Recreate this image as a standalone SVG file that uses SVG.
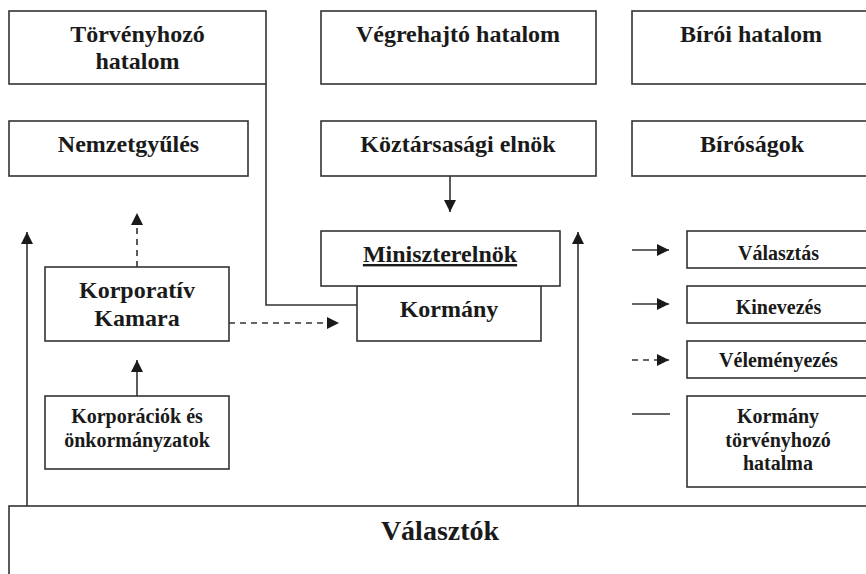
<svg xmlns="http://www.w3.org/2000/svg" width="866" height="574" viewBox="0 0 866 574">
<style>
.box{fill:#fff;stroke:#333;stroke-width:1.6}
.t{font-family:"Liberation Serif","Times New Roman",serif;font-weight:bold;fill:#1a1a1a;text-anchor:middle}
.t24{font-size:24px}
.t20{font-size:20px}
.t28{font-size:28px}
.ln{fill:none;stroke:#333;stroke-width:1.6}
.dash{stroke-dasharray:6,5}
</style>
<defs>
<marker id="ah" markerUnits="userSpaceOnUse" markerWidth="12" markerHeight="12" refX="12" refY="6" orient="auto">
<path d="M0,0 L12,6 L0,12 z" fill="#1a1a1a"/>
</marker>
</defs>
<rect width="866" height="574" fill="#fff"/>

<g id="connectors">
<path class="ln" d="M266,84 V305 H357"/>
<path class="ln" d="M450,176 V212" marker-end="url(#ah)"/>
<path class="ln dash" d="M137,267 V213" marker-end="url(#ah)"/>
<path class="ln dash" d="M229,323 H339" marker-end="url(#ah)"/>
<path class="ln" d="M137,396 V360" marker-end="url(#ah)"/>
<path class="ln" d="M27,506 V232" marker-end="url(#ah)"/>
<path class="ln" d="M578,506 V232" marker-end="url(#ah)"/>
<path class="ln" d="M632,250 H669" marker-end="url(#ah)"/>
<path class="ln" d="M632,304 H669" marker-end="url(#ah)"/>
<path class="ln dash" d="M632,360 H669" marker-end="url(#ah)"/>
<path class="ln" d="M632,414 H670"/>
</g>

<g id="torvenyhozo">
<rect class="box" x="9" y="11" width="257" height="73"/>
<text class="t t24" x="137.5" y="42">Törvényhozó</text>
<text class="t t24" x="137.5" y="69">hatalom</text>
</g>
<g id="vegrehajto">
<rect class="box" x="321" y="11" width="275" height="73"/>
<text class="t t24" x="458" y="42">Végrehajtó hatalom</text>
</g>
<g id="biroi">
<rect class="box" x="632" y="11" width="240" height="73"/>
<text class="t t24" x="751" y="42">Bírói hatalom</text>
</g>
<g id="nemzetgyules">
<rect class="box" x="9" y="121" width="239" height="55"/>
<text class="t t24" x="128.5" y="152">Nemzetgyűlés</text>
</g>
<g id="koztarsasagi">
<rect class="box" x="321" y="121" width="275" height="55"/>
<text class="t t24" x="458" y="152">Köztársasági elnök</text>
</g>
<g id="birosagok">
<rect class="box" x="632" y="121" width="240" height="55"/>
<text class="t t24" x="752" y="152">Bíróságok</text>
</g>
<g id="kormany">
<rect class="box" x="357" y="286" width="184" height="55"/>
<text class="t t24" x="449" y="317">Kormány</text>
</g>
<g id="miniszterelnok">
<rect class="box" x="321" y="231" width="239" height="55"/>
<text class="t t24" x="440" y="262" text-decoration="underline">Miniszterelnök</text>
</g>
<g id="kamara">
<rect class="box" x="45" y="267" width="184" height="74"/>
<text class="t t24" x="137" y="298">Korporatív</text>
<text class="t t24" x="137" y="326">Kamara</text>
</g>
<g id="korporaciok">
<rect class="box" x="45" y="396" width="184" height="73"/>
<text class="t t20" x="137" y="423">Korporációk és</text>
<text class="t t20" x="137" y="447">önkormányzatok</text>
</g>
<g id="valasztok">
<rect class="box" x="9" y="506" width="864" height="80"/>
<text class="t t28" x="440" y="540">Választók</text>
</g>
<g id="legend-valasztas">
<rect class="box" x="687" y="231" width="185" height="37"/>
<text class="t t20" x="778.5" y="260">Választás</text>
</g>
<g id="legend-kinevezes">
<rect class="box" x="687" y="286" width="185" height="37"/>
<text class="t t20" x="778.5" y="314">Kinevezés</text>
</g>
<g id="legend-velemenyezes">
<rect class="box" x="687" y="341" width="185" height="37"/>
<text class="t t20" x="778.5" y="367">Véleményezés</text>
</g>
<g id="legend-kormany">
<rect class="box" x="687" y="396" width="185" height="91"/>
<text class="t t20" x="778" y="423">Kormány</text>
<text class="t t20" x="778" y="447">törvényhozó</text>
<text class="t t20" x="778" y="470">hatalma</text>
</g>
</svg>
